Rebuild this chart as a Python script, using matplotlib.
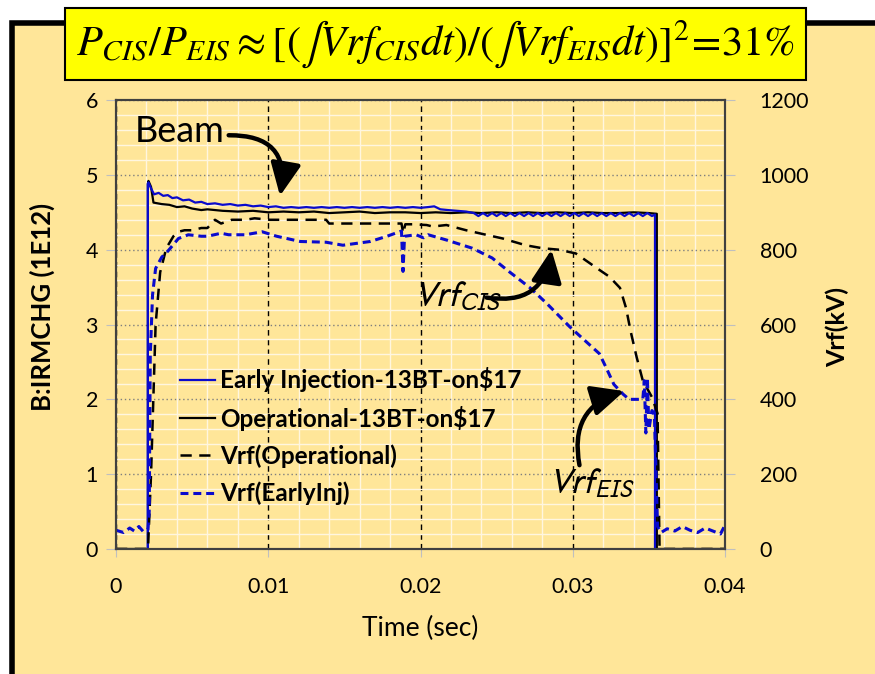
import matplotlib
matplotlib.use("Agg")
import matplotlib.pyplot as plt
from matplotlib.patches import Rectangle
from matplotlib.ticker import MultipleLocator

# ---- data ----
# beam intensity, B:IRMCHG (1E12)
t_beam_op = [0, 0.00209, 0.00209, 0.00213, 0.0023, 0.00246, 0.003, 0.0035, 0.004,
             0.0045, 0.005, 0.0056, 0.006, 0.007, 0.008, 0.009, 0.010, 0.011, 0.012,
             0.013, 0.014, 0.015, 0.016, 0.017, 0.018, 0.019, 0.020, 0.021, 0.022,
             0.023, 0.024, 0.025, 0.026, 0.027, 0.028, 0.029, 0.030, 0.031, 0.032,
             0.033, 0.034, 0.035, 0.03552, 0.03552, 0.04]
beam_op = [0, 0, 4.88, 4.92, 4.84, 4.63, 4.61, 4.60, 4.57, 4.58, 4.55, 4.53, 4.54,
           4.52, 4.51, 4.52, 4.50, 4.51, 4.50, 4.51, 4.49, 4.50, 4.51, 4.49, 4.50,
           4.50, 4.49, 4.50, 4.49, 4.50, 4.49, 4.50, 4.49, 4.50, 4.49, 4.50, 4.49,
           4.50, 4.49, 4.49, 4.50, 4.49, 4.48, 0, 0]

t_beam_ei = [0.00209, 0.00209, 0.00213, 0.0023, 0.0025, 0.0028, 0.0031, 0.0034, 0.0037,
             0.004, 0.0044, 0.0048, 0.0052, 0.0056, 0.006, 0.0065, 0.007, 0.0075, 0.008,
             0.0085, 0.009, 0.0095, 0.010, 0.0105, 0.011, 0.0115, 0.012, 0.0125, 0.013,
             0.0135, 0.014, 0.0145, 0.015, 0.0155, 0.016, 0.0165, 0.017, 0.0175, 0.018,
             0.0185, 0.019, 0.0195, 0.020, 0.0205, 0.0209, 0.0213, 0.0218, 0.0224, 0.023,
             0.0235, 0.0238, 0.0241, 0.0244, 0.0247, 0.025, 0.0253, 0.0256, 0.0259,
             0.0262, 0.0265, 0.0268, 0.0271, 0.0274, 0.0277, 0.028, 0.0283, 0.0286,
             0.0289, 0.0292, 0.0295, 0.0298, 0.0301, 0.0304, 0.0307, 0.031, 0.0313,
             0.0316, 0.0319, 0.0322, 0.0325, 0.0328, 0.0331, 0.0334, 0.0337, 0.034,
             0.0343, 0.0346, 0.0349, 0.0352, 0.0354, 0.0354]
beam_ei = [0, 4.88, 4.90, 4.82, 4.74, 4.76, 4.72, 4.73, 4.69, 4.70, 4.66, 4.67, 4.63,
           4.64, 4.61, 4.62, 4.60, 4.61, 4.59, 4.60, 4.58, 4.59, 4.57, 4.58, 4.56, 4.57,
           4.56, 4.57, 4.56, 4.57, 4.56, 4.57, 4.56, 4.57, 4.56, 4.57, 4.56, 4.57, 4.56,
           4.57, 4.56, 4.57, 4.56, 4.57, 4.58, 4.54, 4.53, 4.52, 4.51, 4.49,
           4.45, 4.49, 4.45, 4.49, 4.45, 4.49, 4.45, 4.49, 4.45, 4.49, 4.45, 4.49, 4.45,
           4.49, 4.45, 4.49, 4.45, 4.49, 4.45, 4.49, 4.45, 4.49, 4.45, 4.49, 4.45, 4.49,
           4.45, 4.49, 4.45, 4.49, 4.45, 4.49, 4.45, 4.49, 4.45, 4.49, 4.45, 4.49, 4.45,
           4.47, 0]

# RF voltage, kV
t_vrf_op = [0, 0.0021, 0.0023, 0.0026, 0.0029, 0.0033, 0.00377, 0.0041, 0.0045, 0.005,
            0.0056, 0.006, 0.0065, 0.0069, 0.0076, 0.0085, 0.0091, 0.0101, 0.0138, 0.014,
            0.0184, 0.01875, 0.01886, 0.019, 0.0195, 0.0204, 0.0208, 0.0217, 0.023,
            0.0243, 0.0254, 0.0269, 0.028, 0.0291, 0.0302, 0.03175, 0.0324, 0.0331,
            0.0335, 0.0338, 0.0342, 0.0346, 0.0352, 0.03557, 0.0357, 0.04]
vrf_op = [0, 0, 200, 600, 740, 804, 836, 848, 852, 852, 858, 858, 880, 870, 880, 880,
          884, 880, 880, 870, 870, 870, 844, 868, 868, 866, 862, 866, 852, 840, 830, 812,
          804, 800, 790, 746, 728, 698, 644, 582, 512, 450, 406, 362, 0, 0]

t_vrf_ei = [0, 0.0005, 0.0009, 0.0012, 0.0015, 0.0018, 0.0021, 0.00218, 0.00225, 0.0024,
            0.0026, 0.003, 0.0034, 0.0041, 0.00475, 0.0056, 0.006, 0.0069, 0.0074,
            0.0085, 0.0096, 0.01055, 0.0121, 0.0138, 0.0149, 0.0167, 0.0178, 0.01875,
            0.01885, 0.01895, 0.0197, 0.0202, 0.0205, 0.0217, 0.0234, 0.0247, 0.0258,
            0.0272, 0.0283, 0.0298, 0.03175, 0.0322, 0.0327, 0.0333, 0.0337, 0.0346,
            0.0347, 0.0348, 0.0349, 0.035, 0.0352, 0.03536, 0.03557, 0.0358, 0.0362,
            0.0367, 0.0372, 0.0377, 0.0382, 0.0387, 0.0392, 0.0397, 0.04]
vrf_ei = [50, 44, 56, 48, 60, 46, 52, 100, 520, 680, 750, 780, 796, 830, 840, 836, 836,
          844, 840, 840, 848, 836, 822, 820, 812, 822, 836, 850, 742, 836, 840, 832, 840,
          826, 804, 778, 742, 698, 656, 594, 522, 484, 440, 414, 400, 400, 450, 310, 458,
          320, 370, 360, 60, 44, 54, 48, 60, 50, 44, 56, 48, 40, 64]

labels = ["Early Injection-13BT-on$17", "Operational-13BT-on$17",
          "Vrf(Operational)", "Vrf(EarlyInj)"]
title = r"$P_{CIS}/P_{EIS}\approx[(\int Vrf_{CIS}dt)/(\int Vrf_{EIS}dt)]^{2}\!=\!31\%$"

# ---- style ----
BG = "#FFE699"
BLUE = "#0A0ACD"
plt.rcParams["font.family"] = ["Lato", "DejaVu Sans"]
plt.rcParams["mathtext.fontset"] = "stix"

fig = plt.figure(figsize=(8.75, 6.74), dpi=100)
fig.patch.set_facecolor("white")

# outer panel frame
fig.add_artist(Rectangle((0.014, -0.1), 1.2, 0.966 + 0.1, transform=fig.transFigure,
                         facecolor=BG, edgecolor="black", linewidth=4, zorder=-1))

ax = fig.add_axes([0.1326, 0.1855, 0.696, 0.666])
ax.set_facecolor(BG)
ax2 = ax.twinx()

ax.plot(t_beam_op, beam_op, color="black", lw=1.6, label=labels[1])
ax.plot(t_beam_ei, beam_ei, color=BLUE, lw=1.6, label=labels[0])

ax2.plot(t_vrf_op, vrf_op, color="black", lw=1.8, dashes=(4.5, 3), label=labels[2])
ax2.plot(t_vrf_ei, vrf_ei, color=BLUE, lw=2.2, dashes=(2.6, 1.6), label=labels[3])

ax.set_xlim(0, 0.04)
ax.set_ylim(0, 6)
ax2.set_ylim(0, 1200)
ax.xaxis.set_major_locator(MultipleLocator(0.01))
ax.xaxis.set_minor_locator(MultipleLocator(0.002))
ax.yaxis.set_major_locator(MultipleLocator(1))
ax.yaxis.set_minor_locator(MultipleLocator(0.2))
ax2.yaxis.set_major_locator(MultipleLocator(200))
ax.xaxis.set_major_formatter(plt.FuncFormatter(lambda v, p: "0" if v == 0 else f"{v:g}"))

ax.grid(which="minor", color="#FFF6E0", lw=1.0)
ax.grid(which="major", axis="y", color="#7F7F7F", lw=1.0, linestyle=(0, (1, 2)))
ax.grid(which="major", axis="x", color="black", lw=1.0, linestyle=(0, (4, 3)))
ax.set_axisbelow(True)

for a in (ax, ax2):
    for s in a.spines.values():
        s.set_color("#404040")
        s.set_linewidth(1.5)
ax.tick_params(which="minor", length=0)
ax.tick_params(axis="y", which="major", length=7, color="#BFBFBF", labelsize=15.5, pad=6)
ax.tick_params(axis="x", which="major", length=6, color="#BFBFBF", labelsize=15.5, pad=14)
ax2.tick_params(axis="y", which="major", length=7, color="#BFBFBF", labelsize=15.5, pad=18)

ax.set_ylabel("B:IRMCHG (1E12)", fontsize=18.5, fontweight="bold")
ax.yaxis.set_label_coords(-0.1, 0.54)
ax2.set_ylabel("Vrf(kV)", fontsize=18, fontweight="bold")
ax2.yaxis.set_label_coords(1.165, 0.494)
ax.set_xlabel("Time (sec)", fontsize=19)
ax.xaxis.set_label_coords(0.5, -0.15)

h = [ax.get_lines()[1], ax.get_lines()[0], ax2.get_lines()[0], ax2.get_lines()[1]]
ax2.legend(h, labels, loc="upper left", bbox_to_anchor=(0.105, 0.405), frameon=False,
           prop={"size": 17.5, "weight": "bold"}, handlelength=1.45, handletextpad=0.2,
           labelspacing=0.56, borderpad=0, borderaxespad=0)

# annotations
arrow = dict(arrowstyle="-|>,head_length=0.9,head_width=0.42", color="black",
             lw=3.2, mutation_scale=22, shrinkA=0, shrinkB=0)
ax2.text(0.00126, 5.44, "Beam", transform=ax.transData, fontsize=26,
         ha="left", va="baseline")
ax2.annotate("", xy=(0.01077, 4.72), xytext=(0.0074, 5.53),
             xycoords=ax.transData, textcoords=ax.transData,
             arrowprops=dict(arrow, connectionstyle="arc3,rad=-0.6"))
ax2.text(0.0195, 3.245, r"$Vrf_{CIS}$", transform=ax.transData, fontsize=25,
         math_fontfamily="stixsans", ha="left", va="baseline")
ax2.annotate("", xy=(0.0286, 4.0), xytext=(0.02434, 3.36),
             xycoords=ax.transData, textcoords=ax.transData,
             arrowprops=dict(arrow, connectionstyle="arc3,rad=0.5"))
ax2.text(0.0284, 0.745, r"$Vrf_{EIS}$", transform=ax.transData, fontsize=25,
         math_fontfamily="stixsans", ha="left", va="baseline")
ax2.annotate("", xy=(0.03339, 2.11), xytext=(0.03044, 1.12),
             xycoords=ax.transData, textcoords=ax.transData,
             arrowprops=dict(arrow, connectionstyle="arc3,rad=-0.45"))

# title box
fig.add_artist(Rectangle((0.0743, 0.8813), 0.847, 0.1068, transform=fig.transFigure,
                         facecolor="#FFFF00", edgecolor="black", linewidth=1.5, zorder=5))
fig.text(0.497, 0.934, title, fontsize=30.5, ha="center", va="center", zorder=6,
         math_fontfamily="stix")

fig.savefig("out.png", dpi=100)
